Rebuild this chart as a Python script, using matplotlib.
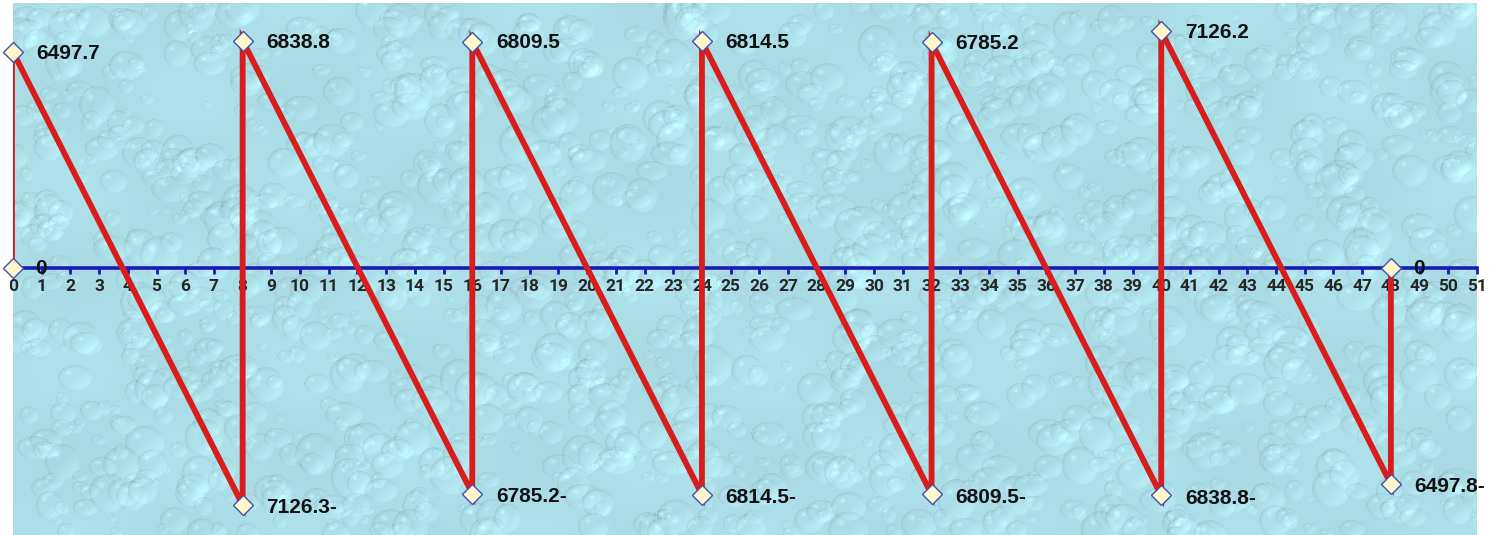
import numpy as np
import matplotlib
matplotlib.use("Agg")
import matplotlib.pyplot as plt

# Support positions along the beam and diagram values at each node
x_nodes = [0, 8, 16, 24, 32, 40, 48]
top_values = [6497.7, 6838.8, 6809.5, 6814.5, 6785.2, 7126.2]      # at x = 0, 8, ..., 40
bottom_values = [-7126.3, -6785.2, -6814.5, -6809.5, -6838.8, -6497.8]  # at x = 8, 16, ..., 48
top_labels = ["6497.7", "6838.8", "6809.5", "6814.5", "6785.2", "7126.2"]
bottom_labels = ["7126.3-", "6785.2-", "6814.5-", "6809.5-", "6838.8-", "6497.8-"]
x_ticks = list(range(0, 52))

# Build the diagram polyline: jump up at each support, run down linearly to the next one
xs = [x_nodes[0]]
ys = [0.0]
for i in range(len(top_values)):
    xs += [x_nodes[i], x_nodes[i + 1]]
    ys += [top_values[i], bottom_values[i]]
xs.append(x_nodes[-1])
ys.append(0.0)

W_PX, H_PX, DPI = 1500, 535, 100
fig = plt.figure(figsize=(W_PX / DPI, H_PX / DPI), dpi=DPI)
fig.patch.set_facecolor("white")
ax = fig.add_axes([13 / W_PX, 0.0, (1477 - 13) / W_PX, (535 - 3) / H_PX])

ymin, ymax = -8030, 7970
ax.set_xlim(0, 51)
ax.set_ylim(ymin, ymax)

# Water-drop backdrop texture
h, w = 532, 1464
img = np.empty((h, w, 3))
base = np.array([172, 222, 231]) / 255.0
yy, xx = np.mgrid[0:h, 0:w]
shade = 0.015 * np.sin(xx / 37.0) * np.cos(yy / 29.0)
rng = np.random.default_rng(11)
for _ in range(1600):
    cx, cy = rng.uniform(0, w), rng.uniform(0, h)
    rx = rng.uniform(4, 20)
    ry = rx * rng.uniform(0.6, 1.1)
    x0, x1 = int(max(cx - rx - 2, 0)), int(min(cx + rx + 3, w))
    y0, y1 = int(max(cy - ry - 2, 0)), int(min(cy + ry + 3, h))
    if x1 <= x0 or y1 <= y0:
        continue
    sx = (xx[y0:y1, x0:x1] - cx) / rx
    sy = (yy[y0:y1, x0:x1] - cy) / ry
    d = sx ** 2 + sy ** 2
    inside = d < 1.0
    rim = np.clip((d - 0.6) / 0.4, 0, 1) * inside
    dirn = (-sx - sy) * 0.5
    delta = -0.07 * rim * (0.6 + 0.6 * dirn)
    delta += 0.045 * inside * np.clip(sx + sy, 0, 1.2)
    hl = np.exp(-(((sx + 0.35) ** 2 + (sy + 0.4) ** 2) / 0.02)) * 0.08
    delta += hl * inside
    shade[y0:y1, x0:x1] += delta
for k in range(3):
    img[..., k] = base[k] + shade * (1.0 if k else 0.8)
img = np.clip(img, 0, 1)
ax.imshow(img, extent=[0, 51, ymin, ymax], aspect="auto", zorder=0,
          interpolation="bilinear")

# Axis line through zero with integer ticks
for side in ["top", "right", "left"]:
    ax.spines[side].set_visible(False)
ax.spines["bottom"].set_position(("data", 0))
ax.spines["bottom"].set_color("#1a1ab4")
ax.spines["bottom"].set_linewidth(2.6)
ax.spines["bottom"].set_zorder(2)
ax.set_yticks([])
ax.set_xticks(x_ticks)
ax.set_xticklabels([str(t) for t in x_ticks], fontsize=12.5, fontweight="bold",
                   color="#262626", family="Roboto")
ax.tick_params(axis="x", direction="out", length=4, width=2, color="#1a1ab4", pad=4)

# Diagram line: thin start, thick remainder
ax.plot(xs[:2], ys[:2], color="#d91c1c", lw=2.0, zorder=3, solid_capstyle="butt")
ax.plot(xs[1:], ys[1:], color="#d91c1c", lw=4.2, zorder=3, solid_joinstyle="miter")

# Node markers
ax.plot(xs, ys, linestyle="none", marker="D", markersize=10.5,
        markerfacecolor="#fff6cc", markeredgecolor="#4050b0", markeredgewidth=1.0,
        zorder=4, clip_on=False)

label_kw = dict(fontsize=15, fontweight="bold", color="#111111",
                family="Liberation Sans", va="center", ha="left", zorder=5,
                textcoords="offset points")
for i, v in enumerate(top_values):
    ax.annotate(top_labels[i], (x_nodes[i], v), xytext=(17, -1), **label_kw)
for i, v in enumerate(bottom_values):
    ax.annotate(bottom_labels[i], (x_nodes[i + 1], v), xytext=(17, -2), **label_kw)
for xz in [x_nodes[0], x_nodes[-1]]:
    ax.annotate("0", (xz, 0), xytext=(16, 0), **label_kw)

fig.savefig("out.png", dpi=DPI, facecolor="white")
